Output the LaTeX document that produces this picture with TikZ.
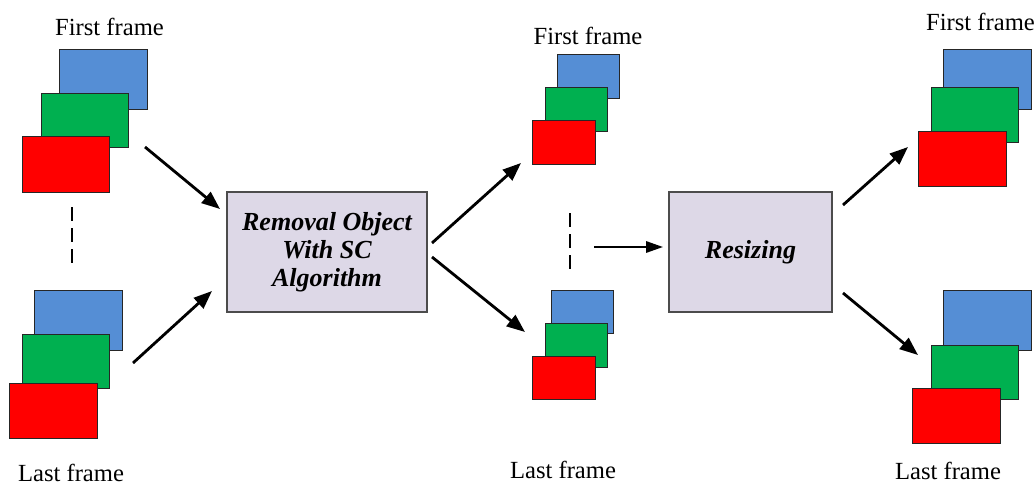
\documentclass[tikz,border=0pt]{standalone}
\usepackage{fontspec}
\setmainfont{Liberation Serif}
\usetikzlibrary{arrows.meta,positioning}
\definecolor{fblue}{HTML}{558ED5}
\definecolor{fgreen}{HTML}{00B050}
\definecolor{fred}{HTML}{FF0000}
\definecolor{boxfill}{HTML}{DDD8E7}

\begin{document}
\begin{tikzpicture}[x=0.025cm,y=-0.025cm,
		frm/.style={draw=black!85,line width=0.6pt},
		arr/.style={line width=2pt,-{Triangle[length=13pt,width=10pt]}},
		thinarr/.style={line width=1.5pt,-{Triangle[length=12pt,width=8pt]}},
		gap/.style={line width=1.5pt,dash pattern=on 10pt off 5pt},
		proc/.style={draw=black!70,line width=0.8pt,fill=boxfill,align=center,font=\fontsize{18.5}{20}\selectfont\bfseries\itshape},
		lbl/.style={inner sep=0pt,font=\fontsize{17.5}{20}\selectfont}]
			\useasboundingbox (0,0) rectangle (1036,485);
			
			\draw[frm,fill=fblue]  (59,49) rectangle (147,109);
			\draw[frm,fill=fgreen] (41,93) rectangle (128,147);
			\draw[frm,fill=fred]   (22,136) rectangle (109,192);
			
			\draw[frm,fill=fblue]  (34,290) rectangle (122,350);
			\draw[frm,fill=fgreen] (22,334) rectangle (109,388);
			\draw[frm,fill=fred]   (9,383) rectangle (97,438);
			
			\draw[frm,fill=fblue]  (557,54) rectangle (619,98);
			\draw[frm,fill=fgreen] (545,87) rectangle (607,131);
			\draw[frm,fill=fred]   (532,120) rectangle (595,164);
			
			\draw[frm,fill=fblue]  (551,290) rectangle (613,333);
			\draw[frm,fill=fgreen] (545,323) rectangle (607,367);
			\draw[frm,fill=fred]   (532,356) rectangle (595,399);
			
			\draw[frm,fill=fblue]  (943,49) rectangle (1031,109);
			\draw[frm,fill=fgreen] (931,87) rectangle (1018,142);
			\draw[frm,fill=fred]   (918,131) rectangle (1006,186);
			
			\draw[frm,fill=fblue]  (943,290) rectangle (1031,350);
			\draw[frm,fill=fgreen] (931,345) rectangle (1018,399);
			\draw[frm,fill=fred]   (912,388) rectangle (1000,443);
			
			\node[lbl] (firstA) at (109.5,27) {First frame};
			\node[lbl] (lastA) at (71,473) {Last frame};
			\node[lbl] (firstC) at (588,36) {First frame};
			\node[lbl] (lastC) at (563,470) {Last frame};
			\node[lbl] (firstE) at (980.5,22) {First frame};
			\node[lbl] (lastE) at (948,471) {Last frame};
			
			\node[proc,minimum width=5cm,minimum height=3cm] (removal) at (327,252) {Removal Object\\With SC\\Algorithm};
			\node[proc,minimum width=4.075cm,minimum height=3cm] (resize) at (750.5,252) {Resizing};
			
			\draw[gap] (72,207) -- (72,265);
			\draw[gap] (570,213) -- (570,270);
			
			\coordinate (a1) at (145,147);
			\coordinate (a2) at (220,209);
			\coordinate (b1) at (133,363);
			\coordinate (b2) at (212,291);
			\coordinate (c1) at (432,243);
			\coordinate (c2) at (521,163);
			\coordinate (d1) at (432,257);
			\coordinate (d2) at (525,332);
			\coordinate (m1) at (594,247);
			\coordinate (m2) at (663,247);
			\coordinate (e1) at (843,205);
			\coordinate (e2) at (908,147);
			\coordinate (f1) at (843,293);
			\coordinate (f2) at (918,355);
			
			\draw[arr] (a1) -- (a2);
			\draw[arr] (b1) -- (b2);
			\draw[arr] (c1) -- (c2);
			\draw[arr] (d1) -- (d2);
			\draw[thinarr] (m1) -- (m2);
			\draw[arr] (e1) -- (e2);
			\draw[arr] (f1) -- (f2);
			\end{tikzpicture}
\end{document}
